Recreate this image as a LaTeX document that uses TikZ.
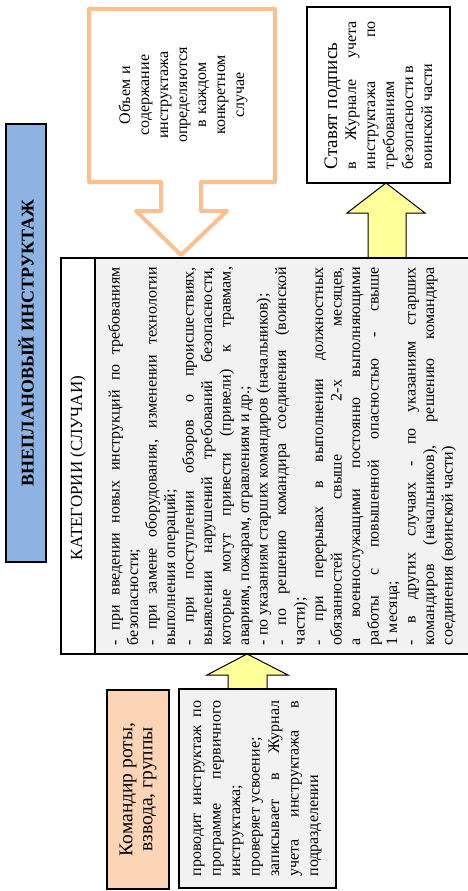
\documentclass[tikz,border=0pt]{standalone}
\usepackage{fontspec}
\setmainfont{Liberation Serif}
\setlength{\parindent}{0pt}
\definecolor{titleblue}{HTML}{8DB3E2}
\definecolor{boxgray}{HTML}{F2F2F2}
\definecolor{peach}{HTML}{FBD5B5}
\definecolor{calloutorange}{HTML}{FAC090}
\definecolor{arrowyellow}{HTML}{FFFF99}
\tikzstyle{box}=[draw=black, line width=1.2pt, rotate=90, inner sep=0pt]
\tikzstyle{titlebox}=[box, fill=titleblue, line width=1.5pt, font=\fontsize{18}{20}\selectfont\bfseries]
\tikzstyle{headbox}=[box, fill=white, font=\fontsize{17}{20}\selectfont]
\tikzstyle{textbox}=[box, fill=boxgray, align=justify, font=\fontsize{16}{18.5}\selectfont]
\tikzstyle{yarrow}=[fill=arrowyellow, draw=black, line width=1pt, line join=miter]
\tikzstyle{callout}=[draw=calloutorange, fill=white, line width=4pt, line join=round]

\begin{document}
\begin{tikzpicture}[x=1pt, y=-1pt]
	\useasboundingbox (0,0) rectangle (468,891);

	% orange callout and yellow block arrows
	\draw[callout] (89,9) -- (275,9) -- (275,182) -- (201,182) -- (201,211) -- (227,211) -- (181,255)
		-- (136,211) -- (161,211) -- (161,182) -- (89,182) -- cycle;
	\draw[yarrow] (228,690) -- (228,675) -- (207,675) -- (247,654) -- (288,675) -- (267,675) -- (267,690);
	\draw[yarrow] (368,258) -- (368,213) -- (347,213) -- (386,183) -- (425,213) -- (406,213) -- (406,258);

	\node[titlebox, minimum width=438, minimum height=40] (title) at (26,343) {ВНЕПЛАНОВЫЙ ИНСТРУКТАЖ};

	% categories
	\node[headbox, minimum width=396, minimum height=34] (head) at (78,456) {КАТЕГОРИИ (СЛУЧАИ)\hspace*{24pt}};
	\node[textbox, minimum width=396, minimum height=374, text width=378] (cats) at (282,456) {%
		- при введении новых инструкций по требованиям\linebreak безопасности;\par
		- при замене оборудования, изменении технологии\linebreak выполнения операций;\par
		- при поступлении обзоров о происшествиях,\linebreak выявлении нарушений требований безопасности,\linebreak
		которые могут привести (привели) к травмам,\linebreak авариям, пожарам, отравлениям и др.;\par
		- по указаниям старших командиров (начальников);\par
		- по решению командира соединения (воинской\linebreak части);\par
		- при перерывах в выполнении должностных\linebreak обязанностей свыше 2-х месяцев,\linebreak
		а военнослужащими постоянно выполняющими\linebreak работы с повышенной опасностью - свыше\linebreak 1 месяца;\par
		- в других случаях - по указаниям старших\linebreak командиров (начальников), решению командира\linebreak
		соединения (воинской части)};

	\node[rotate=90, align=center, text width=170, inner sep=0pt, font=\fontsize{16}{19}\selectfont] (vol) at (183,95)
		{Объем и\\ содержание\\ инструктажа\\ определяются\\ в каждом\\ конкретном\\ случае};

	\node[box, fill=white, align=justify, minimum width=176, minimum height=143, text width=148,
		font=\fontsize{16}{19}\selectfont] (sign) at (378.5,95)
		{{\fontsize{19}{22}\selectfont Ставят подпись}\par в Журнале учета\linebreak инструктажа по\linebreak
		требованиям\par безопасности в\par воинской части};

	% who carries it out
	\node[box, fill=peach, align=center, minimum width=199, minimum height=62, font=\fontsize{19.5}{20}\selectfont] (cmd)
		at (138,789.5) {Командир роты,\\ взвода, группы};
	\node[textbox, minimum width=199, minimum height=157, text width=176, font=\fontsize{16}{19.5}\selectfont] (task)
		at (257.5,788.5) {проводит инструктаж по\linebreak программе первичного\linebreak инструктажа;\par
		проверяет усвоение;\par записывает в Журнал\linebreak учета инструктажа в\linebreak подразделении};
\end{tikzpicture}
\end{document}
